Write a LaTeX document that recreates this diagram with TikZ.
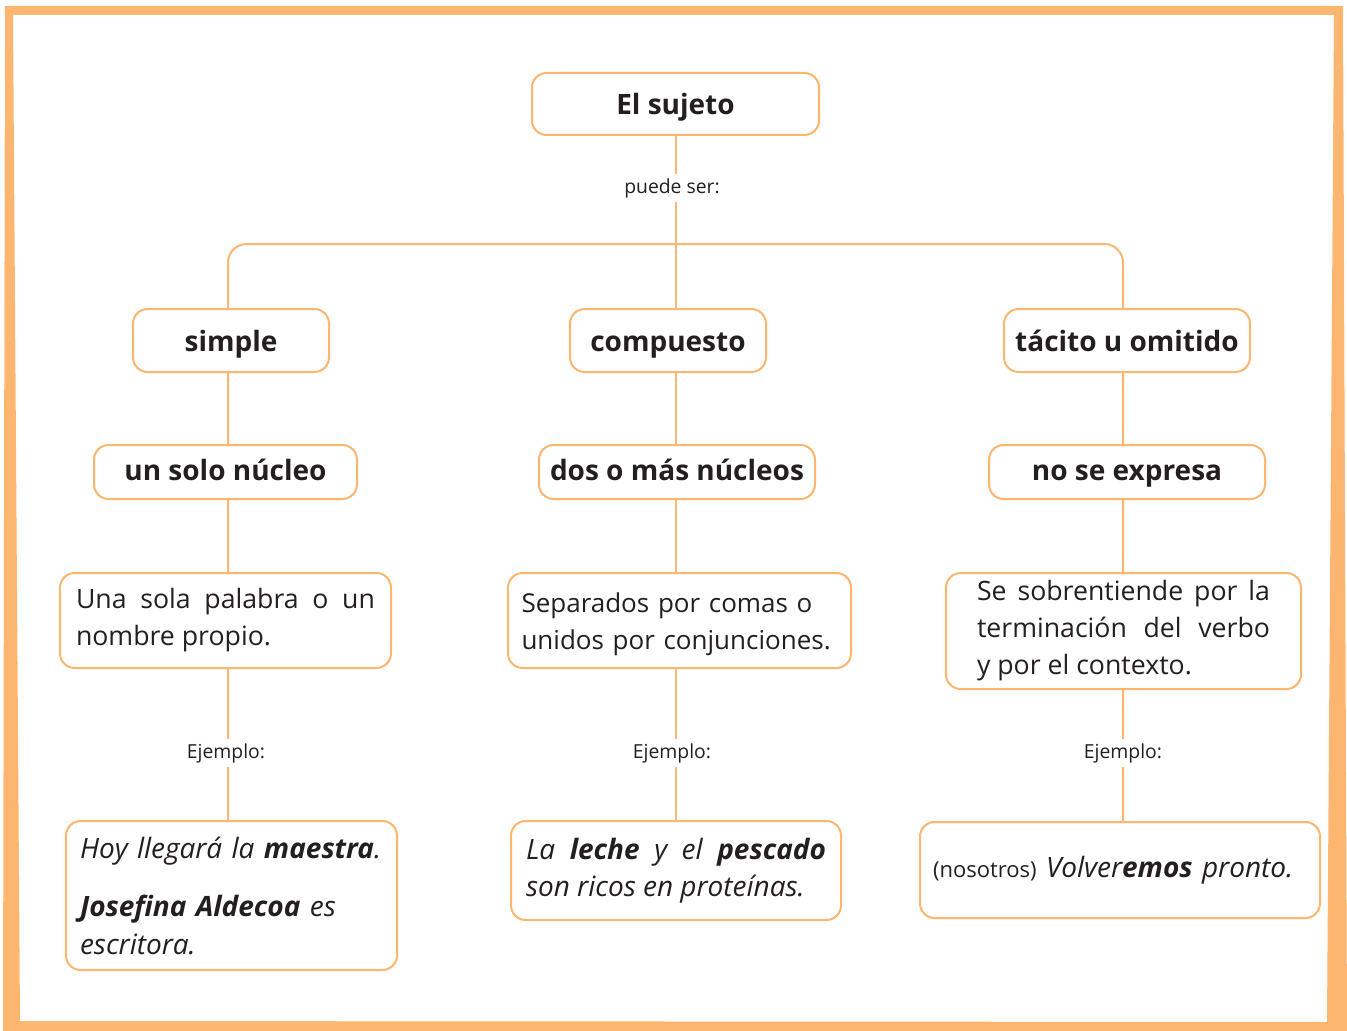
\documentclass[tikz,border=0pt]{standalone}
\usepackage{fontspec}
\setmainfont{Open Sans}
\usetikzlibrary{backgrounds}
\definecolor{orng}{RGB}{253,182,112}
\definecolor{ink}{RGB}{35,31,32}
\tikzset{
  box/.style={draw=orng, line width=1.5pt, rounded corners=11pt, fill=white, text=ink},
  lbl/.style={box, font=\fontsize{21}{25}\selectfont\bfseries, text height=18pt, text depth=2pt},
  lbltwo/.style={box, font=\fontsize{21}{25}\selectfont\bfseries, text height=16pt, text depth=3pt},
  txt/.style={box, font=\fontsize{20}{27.75}\selectfont},
  ittxt/.style={box, font=\fontsize{21}{28}\selectfont},
  conn/.style={draw=orng, line width=1.5pt},
  small/.style={fill=white, text=ink, font=\fontsize{14.5}{17}\selectfont, inner xsep=2pt, inner ysep=3pt}
}
\begin{document}
\begin{tikzpicture}[x=0.75pt,y=-0.75pt]
\useasboundingbox (0,0) rectangle (1347,1031);
% frame
\fill[orng, even odd rule] (5,6) -- (1343,6) -- (1347,1031) -- (3,1031) -- cycle
  (13,15) -- (1334,15) -- (1327,1022) -- (20,1021) -- cycle;

% top
\node[lbl, minimum width=215.25pt, minimum height=46.5pt] (sujeto) at (675.5,104) {El sujeto};
% level 1
\node[lbl, minimum width=147pt, minimum height=47.25pt] (simple) at (231,340.5) {simple};
\node[lbl, minimum width=147pt, minimum height=47.25pt] (compuesto) at (668,340.5) {compuesto};
\node[lbl, minimum width=184.5pt, minimum height=47.25pt] (tacito) at (1127,340.5) {tácito u omitido};
% level 2
\node[lbltwo, minimum width=197.25pt, minimum height=40.5pt] (unsolo) at (225.5,472) {un solo núcleo};
\node[lbltwo, minimum width=207pt, minimum height=40.5pt] (dosomas) at (677,472) {dos o más núcleos};
\node[lbltwo, minimum width=207pt, minimum height=40.5pt] (noexpresa) at (1127,472) {no se expresa};
% level 3
\node[txt, text width=224.25pt, inner xsep=12pt, minimum height=71.25pt, align=justify] (unasola) at (225.5,620.5)
  {Una sola palabra o un\linebreak nombre propio.};
\node[txt, font=\fontsize{19.5}{27.5}\selectfont, text width=245pt, inner xsep=6.125pt, minimum height=71.25pt, align=left] (separados) at (679.5,620.5)
  {\rule{0pt}{20pt}\hspace*{4pt}Separados por comas o\\\hspace*{4pt}unidos por conjunciones.};
\node[txt, text width=219.75pt, inner xsep=23.25pt, minimum height=87pt, align=justify] (sesobre) at (1123.5,631)
  {Se sobrentiende por la\linebreak terminación\ \ del\ \ verbo\linebreak y por el contexto.\hfill\null};
% level 4
\node[ittxt, text width=227.25pt, inner xsep=10.5pt, minimum height=111.75pt, align=left] (hoy) at (231.5,895.5)
  {\itshape Hoy llegará la \textbf{maestra}.\\[16pt]\textbf{Josefina Aldecoa} es\\escritora.};
\node[ittxt, text width=225pt, inner xsep=11.25pt, minimum height=74.25pt, align=justify] (laleche) at (676,870.5)
  {\itshape La \textbf{leche} y el \textbf{pescado}\linebreak son ricos en proteínas.};
\node[ittxt, text width=280.5pt, inner xsep=9.75pt, minimum height=72pt, align=left] (nosotros) at (1120,870)
  {{\fontsize{16.5}{20}\selectfont(nosotros)} \textit{Volver\textbf{emos} pronto.}};

% labels
\node[small] (puede) at (672,188) {puede ser:};
\node[small] (ej1) at (226,753) {Ejemplo:};
\node[small] (ej2) at (672,753) {Ejemplo:};
\node[small] (ej3) at (1123,753) {Ejemplo:};

\coordinate (L) at (228,244);
\coordinate (R) at (1123,244);
\begin{pgfonlayer}{background}
\fill[white] (13,15) -- (1334,15) -- (1327,1022) -- (20,1021) -- cycle;
\draw[conn] (sujeto.center) -- (sujeto.center |- laleche.north);
\draw[conn, rounded corners=14pt] (L |- hoy.north) -- (L) -- (R) -- (R |- nosotros.north);
\end{pgfonlayer}
\end{tikzpicture}
\end{document}
